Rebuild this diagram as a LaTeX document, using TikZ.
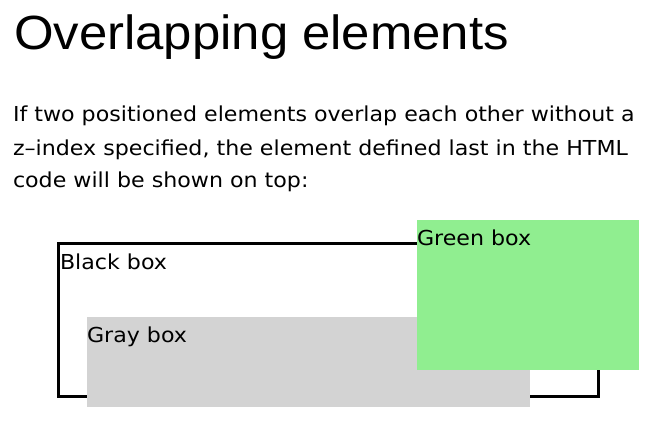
\documentclass[tikz,border=0pt]{standalone}
\usepackage{fontspec}
\setmainfont{Liberation Sans}
\newfontfamily\bodyfont{DejaVu Sans}
\definecolor{lgreen}{HTML}{90EE90}
\definecolor{lgray}{HTML}{D3D3D3}
\begin{document}
\begin{tikzpicture}[x=1pt,y=-1pt,
  txt/.style={anchor=base west,inner sep=0pt,outer sep=0pt},
  title/.style={txt,font=\fontsize{48}{48}\selectfont,xscale=1.06},
  body/.style={txt,font=\bodyfont\fontsize{20.6}{20.6}\selectfont,xscale=1.075},
  boxtext/.style={txt,font=\bodyfont\fontsize{20.6}{20.6}\selectfont,xscale=1.075}]
\useasboundingbox[fill=white] (0,0) rectangle (655,426);
\node[title] (t) at (14,49.3) {Overlapping elements};
\node[body] (l1) at (13,121.7) {If two positioned elements overlap each other without a};
\node[body] (l2) at (13,155) {z–index specified, the element defined last in the HTML};
\node[body] (l3) at (13,187) {code will be shown on top:};
% black box
\draw[line width=3pt] (58.5,243) rectangle (598,396);
\node[boxtext] (bt) at (60,269.3) {Black box};
% gray box
\fill[lgray] (87,317) rectangle (530,407);
\node[boxtext] (gt) at (87,342.3) {Gray box};
% green box
\fill[lgreen] (417,220) rectangle (639,370);
\node[boxtext] (grt) at (417,245) {Green box};
\end{tikzpicture}
\end{document}
